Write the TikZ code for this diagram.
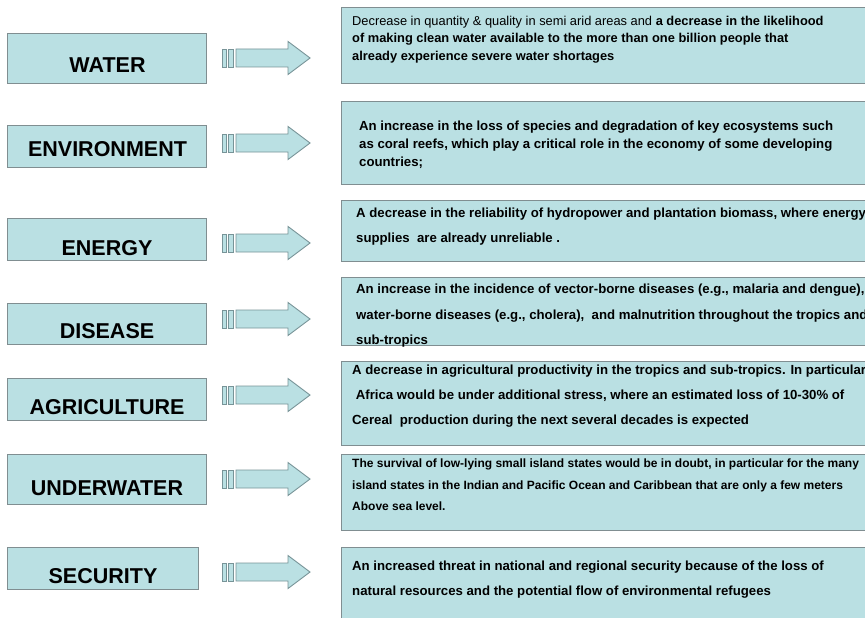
\documentclass[tikz,border=0pt]{standalone}
\usepackage{fontspec}
\setmainfont{Liberation Sans}
\definecolor{boxfill}{RGB}{186,224,227}
\definecolor{boxline}{RGB}{128,142,145}
\definecolor{arrline}{RGB}{120,148,152}
\begin{document}
\begin{tikzpicture}[x=1pt,y=-1pt,
  lbox/.style={draw=boxline, fill=boxfill, line width=1.2pt, inner sep=0pt, anchor=north west},
  rbox/.style={draw=boxline, fill=boxfill, line width=1.2pt, inner sep=0pt, anchor=north west, minimum width=540pt},
  ltext/.style={anchor=base, inner sep=0pt, font=\fontsize{21.5}{25}\selectfont\bfseries},
  rtext/.style={anchor=base west, inner sep=0pt, font=\fontsize{13.2}{16}\selectfont\bfseries},
  wtext/.style={anchor=base west, inner sep=0pt, font=\fontsize{12.85}{16}\selectfont\bfseries},
  utext/.style={anchor=base west, inner sep=0pt, font=\fontsize{12}{15}\selectfont\bfseries},
  arr/.style={draw=arrline, fill=boxfill, line width=0.9pt, line join=miter}]
\useasboundingbox (0,0) rectangle (865,618);
\fill[white] (0,0) rectangle (865,618);

\newcommand\flowarrow[2]{%
  \coordinate (#1) at (222,#2);
  \begin{scope}[shift={(#1)}]
    \draw[arr] (0,-9) rectangle (4,9);
    \draw[arr] (6,-9) rectangle (11,9);
    \draw[arr] (14,-9) -- (66,-9) -- (66,-16.5) -- (88,0) -- (66,16.5) -- (66,9) -- (14,9) -- cycle;
  \end{scope}}

% left boxes
\node[lbox, minimum width=199pt, minimum height=50pt] (water) at (7,33) {};
\node[lbox, minimum width=199pt, minimum height=42pt] (env) at (7,125) {};
\node[lbox, minimum width=199pt, minimum height=42pt] (energy) at (7,218) {};
\node[lbox, minimum width=199pt, minimum height=41pt] (disease) at (7,303) {};
\node[lbox, minimum width=199pt, minimum height=42pt] (agri) at (7,378) {};
\node[lbox, minimum width=199pt, minimum height=50pt] (under) at (7,454) {};
\node[lbox, minimum width=191pt, minimum height=42pt] (secur) at (7,547) {};

\node[ltext] (lwater) at (107.5,73) {WATER};
\node[ltext] (lenv) at (107.5,156) {ENVIRONMENT};
\node[ltext] (lenergy) at (107,255) {ENERGY};
\node[ltext] (ldisease) at (107,338) {DISEASE};
\node[ltext] (lagri) at (107,414) {AGRICULTURE};
\node[ltext] (lunder) at (107,495) {UNDERWATER};
\node[ltext] (lsecur) at (103,583) {SECURITY};

% arrows
\flowarrow{a1}{58}
\flowarrow{a2}{143}
\flowarrow{a3}{243}
\flowarrow{a4}{319}
\flowarrow{a5}{395}
\flowarrow{a6}{479}
\flowarrow{a7}{572}

% right boxes
\node[rbox, minimum height=76pt] (rwater) at (341,7) {};
\node[rbox, minimum height=83pt] (renv) at (341,101) {};
\node[rbox, minimum height=61pt] (renergy) at (341,200) {};
\node[rbox, minimum height=68pt] (rdisease) at (341,277) {};
\node[rbox, minimum height=84pt] (ragri) at (341,361) {};
\node[rbox, minimum height=76pt] (runder) at (341,454) {};
\node[rbox, minimum height=80pt] (rsecur) at (341,547) {};

% right texts
\node[wtext] (w1) at (352,26) {\mdseries Decrease in quantity \& quality in semi arid areas and \bfseries a decrease in the likelihood};
\node[wtext] (w2) at (352,43) {of making clean water available to the more than one billion people that};
\node[wtext] (w3) at (352,60) {already experience severe water shortages};

\node[rtext] (e1) at (359,130) {An increase in the loss of species and degradation of key ecosystems such};
\node[rtext] (e2) at (359,148) {as coral reefs, which play a critical role in the economy of some developing};
\node[rtext] (e3) at (359,166) {countries;};

\node[rtext] (g1) at (356,217) {A decrease in the reliability of hydropower and plantation biomass, where energy};
\node[rtext] (g2) at (356,242) {supplies\ \ are already unreliable .};

\node[rtext] (d1) at (356,293) {An increase in the incidence of vector-borne diseases (e.g., malaria and dengue),};
\node[rtext] (d2) at (356,319) {water-borne diseases (e.g., cholera),\ \ and malnutrition throughout the tropics and};
\node[rtext] (d3) at (356,344) {sub-tropics};

\node[rtext] (c1) at (352,374) {A decrease in agricultural productivity in the tropics and sub-tropics. In particular};
\node[rtext] (c2) at (352,399) {\ Africa would be under additional stress, where an estimated loss of 10-30\% of};
\node[rtext] (c3) at (352,424) {Cereal\ \ production during the next several decades is expected};

\node[utext] (u1) at (352,467) {The survival of low-lying small island states would be in doubt, in particular for the many};
\node[utext] (u2) at (352,489) {island states in the Indian and Pacific Ocean and Caribbean that are only a few meters};
\node[utext] (u3) at (352,510) {Above sea level.};

\node[rtext] (s1) at (352,570) {An increased threat in national and regional security because of the loss of};
\node[rtext] (s2) at (352,595) {natural resources and the potential flow of environmental refugees};
\end{tikzpicture}
\end{document}
